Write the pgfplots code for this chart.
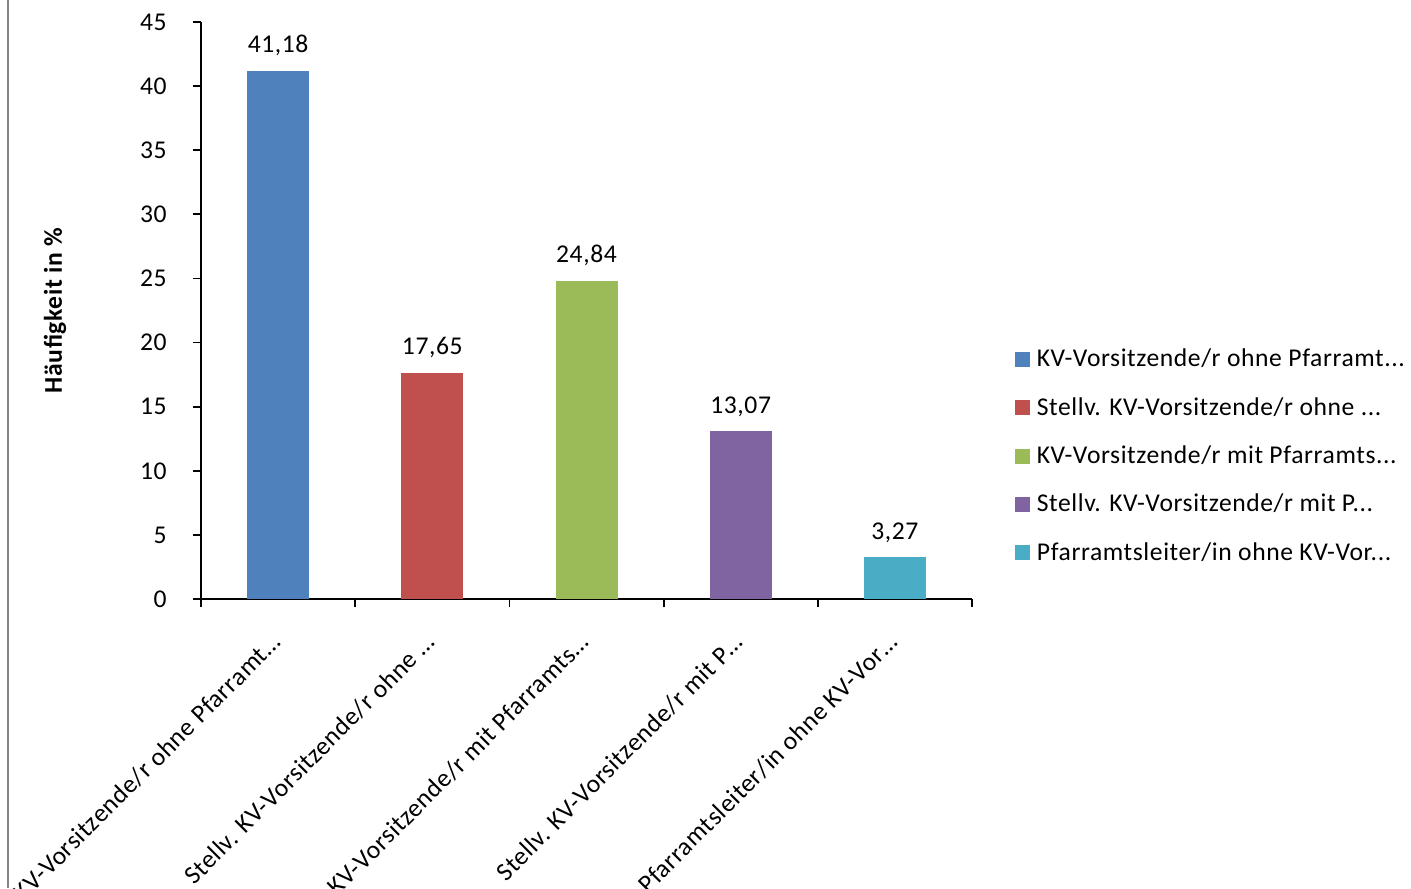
\documentclass[border=0pt]{standalone}
\usepackage{pgfplots}
\pgfplotsset{compat=1.18}
\usepackage{fontspec}
\setmainfont{Carlito}[LetterSpace=2.3]

\definecolor{cblue}{HTML}{4F81BD}
\definecolor{cred}{HTML}{C0504D}
\definecolor{cgreen}{HTML}{9BBB59}
\definecolor{cpurple}{HTML}{8064A2}
\definecolor{ccyan}{HTML}{4BACC6}
\definecolor{chartborder}{HTML}{868686}

\pgfplotsset{
  sqleg/.style={legend image code/.code={\fill[##1] (0pt,-3.75pt) rectangle (7.5pt,3.75pt); \path (8.7pt,0pt);}},
}

\begin{document}
\begin{tikzpicture}[font=\fontsize{12.8}{15}\selectfont]
\useasboundingbox (-100.5pt,-144.5pt) rectangle (605pt,299.5pt);
\clip (-100.5pt,-144.5pt) rectangle (605pt,299.5pt);
\begin{axis}[
  at={(0pt,0pt)}, anchor=south west,
  scale only axis,
  width=385.5pt, height=288.5pt,
  ybar, bar width=31pt, bar shift=0pt,
  xmin=0.5, xmax=5.5,
  ymin=0, ymax=45,
  ytick={0,5,...,45},
  xtick={1,2,3,4,5},
  xticklabels={KV-Vorsitzende/r ohne Pfarramt…,
               Stellv. KV-Vorsitzende/r ohne …,
               KV-Vorsitzende/r mit Pfarramts…,
               Stellv. KV-Vorsitzende/r mit P…,
               Pfarramtsleiter/in ohne KV-Vor…},
  minor xtick={0.5,1.5,...,5.5},
  major x tick style={draw=none},
  axis x line*=bottom, axis y line*=left,
  axis line style={black, line width=0.9pt},
  tick style={black, line width=0.9pt},
  tick align=outside,
  major tick length=4pt, minor tick length=4pt,
  /pgf/number format/assume math mode=true,
  yticklabel style={anchor=east, inner sep=0pt, xshift=-13pt},
  xticklabel style={xshift=2pt, yshift=-18.5pt, rotate=45, anchor=base east, inner sep=0pt},
  ylabel={\bfseries Häufigkeit in \%},
  ylabel style={at={(axis description cs:-0.1894,0.5)}, anchor=center},
  nodes near coords={\pgfmathprintnumber[fixed, fixed zerofill, precision=2, use comma]{\pgfplotspointmeta}},
  every node near coord/.append style={anchor=base, inner sep=0pt, yshift=9pt, black},
  legend style={draw=none, fill=none, at={(1.0558,0.2478)}, anchor=west,
                inner sep=0pt, row sep=9.8pt},
  legend cell align=left,
]
\addplot[fill=cblue, draw=none, sqleg] coordinates {(1,41.18)};
\addlegendentry{KV-Vorsitzende/r ohne Pfarramt...}
\addplot[fill=cred, draw=none, sqleg] coordinates {(2,17.65)};
\addlegendentry{Stellv. KV-Vorsitzende/r ohne ...}
\addplot[fill=cgreen, draw=none, sqleg] coordinates {(3,24.84)};
\addlegendentry{KV-Vorsitzende/r mit Pfarramts...}
\addplot[fill=cpurple, draw=none, sqleg] coordinates {(4,13.07)};
\addlegendentry{Stellv. KV-Vorsitzende/r mit P...}
\addplot[fill=ccyan, draw=none, sqleg] coordinates {(5,3.27)};
\addlegendentry{Pfarramtsleiter/in ohne KV-Vor...}
\end{axis}
\draw[chartborder, line width=1pt] (-96.5pt,-144.5pt) -- (-96.5pt,299.5pt);
\end{tikzpicture}
\end{document}
